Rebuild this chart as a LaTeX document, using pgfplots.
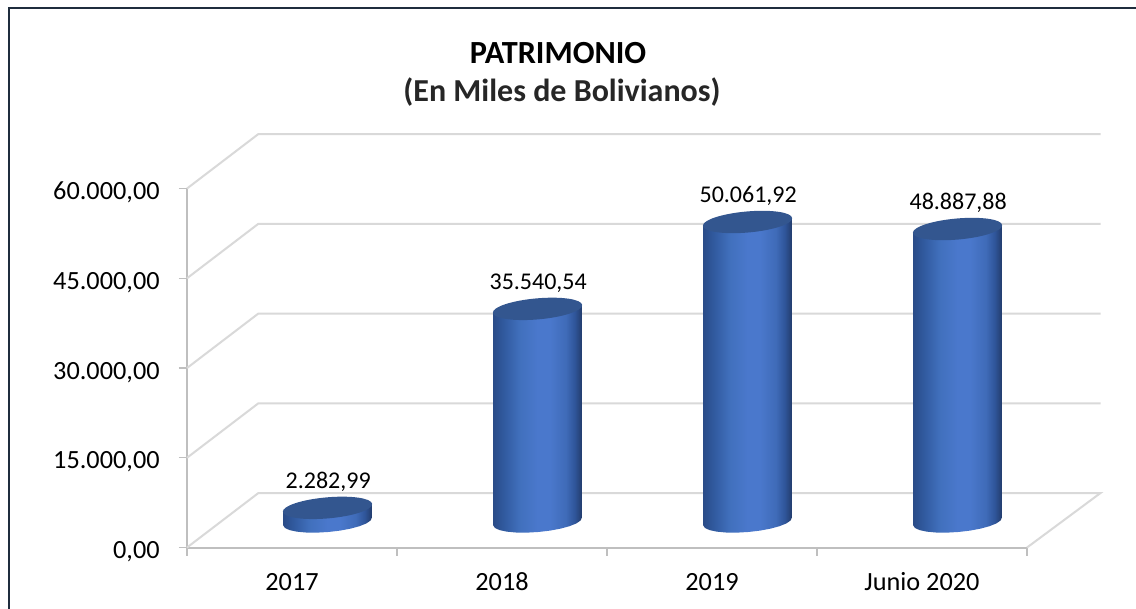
\documentclass[border=0pt]{standalone}
\usepackage{pgfplots}
\pgfplotsset{compat=1.18}
\usepackage{pgfplotstable}
\usepackage{fontspec}
\setmainfont{Carlito}
\definecolor{gridc}{HTML}{D9D9D9}
\definecolor{axisc}{HTML}{BFBFBF}
\definecolor{framec}{HTML}{1F2D3D}
\definecolor{topc}{HTML}{33568F}
\definecolor{cyA}{HTML}{2A4C88}
\definecolor{cyB}{HTML}{315A9F}
\definecolor{cyB2}{HTML}{4170BD}
\definecolor{cyC}{HTML}{4A78CC}
\definecolor{cyD}{HTML}{3F6BB8}
\definecolor{cyD2}{HTML}{2F5599}
\definecolor{cyE}{HTML}{233C6C}
\pgfdeclarehorizontalshading{cyl}{100bp}{color(0bp)=(cyA); color(25bp)=(cyA); color(31bp)=(cyB); color(40bp)=(cyB2); color(50bp)=(cyC); color(57bp)=(cyC); color(66bp)=(cyD); color(71bp)=(cyD2); color(75bp)=(cyE); color(100bp)=(cyE)}
\pgfdeclareplotmark{cyltop}{\pgfpathellipse{\pgfpointorigin}{\pgfpointpolar{5}{33.6pt}}{\pgfpointpolar{95}{7.9pt}}\pgfusepathqfill}
\pgfplotstableread{
x v
0.5 2282.99
1.5 35540.54
2.5 50061.92
3.5 48887.88
}\patrimonio
% outline of a cylinder round x=0: dy + k*value
\pgfplotstableread{
dx dy k
-.2111 -648 1
.2111 648 1
.2111 648 0
.2050 174 0
.1850 -312 0
.1523 -779 0
.1093 -1190 0
.0589 -1521 0
.0044 -1748 0
-.0505 -1856 0
-.1018 -1838 0
-.1462 -1694 0
-.1806 -1435 0
-.2028 -1079 0
-.2111 -648 0
}\cyloutline
\newcommand\cyl[2]{\addplot[shade,shading=cyl,draw=none,forget plot] table[x expr=\thisrow{dx}+#1,y expr=\thisrow{dy}+\thisrow{k}*#2] {\cyloutline} --cycle;}
\begin{document}
\begin{tikzpicture}[x=1pt,y=1pt]
\useasboundingbox (0,0) rectangle (852,456.75);
\fill[white] (0,0) rectangle (852,456.75);
\draw[framec,line width=1.6pt] (6.8,0) -- (6.8,450.9) -- (852,450.9);
\node[font=\bfseries\fontsize{24.2}{28}\selectfont,text=black] at (418.5,417) {PATRIMONIO};
\node[font=\bfseries\fontsize{24}{28}\selectfont,text=black!85] at (421.5,388) {(En Miles de Bolivianos)};
\begin{axis}[
  at={(140.25pt,46.1pt)},anchor=south west,scale only axis,
  width=630pt,height=269.25pt,
  xmin=0,xmax=4,ymin=0,ymax=60000,clip=false,
  axis x line*=bottom,axis y line*=left,axis line style={-,draw=axisc,line width=1.5pt},
  tick align=outside,major tick length=6pt,
  tick style={draw=axisc,line width=1pt},
  xtick={0,1,2,3,4},xticklabels={2017,2018,2019,Junio 2020},x tick label as interval=true,
  ytick={0,15000,30000,45000,60000},
  scaled y ticks=false,
  tick label style={font=\fontsize{19.7}{22}\selectfont,text=black},
  xticklabel style={yshift=-8.8pt,text height=14pt,text depth=4pt},
  yticklabel style={xshift=-11pt,yshift=-3.2pt,/pgf/number format/.cd,fixed,fixed zerofill,precision=2,use comma,1000 sep={.},assume math mode=true},
]
\addplot[gridc,line width=1.5pt,forget plot] coordinates {(0,0) (0.34,9109) (4.35,9109) (4,0)};
\addplot[gridc,line width=1.5pt,forget plot] coordinates {(0,15000) (0.34,24109) (4.35,24109)};
\addplot[gridc,line width=1.5pt,forget plot] coordinates {(0,30000) (0.34,39109) (4.35,39109)};
\addplot[gridc,line width=1.5pt,forget plot] coordinates {(0,45000) (0.34,54109) (4.35,54109)};
\addplot[gridc,line width=1.5pt,forget plot] coordinates {(0,60000) (0.34,69109) (4.35,69109)};
\end{axis}
\begin{axis}[
  at={(166.9pt,65.6pt)},anchor=south west,scale only axis,
  width=630pt,height=269.25pt,
  xmin=0,xmax=4,ymin=0,ymax=60000,clip=false,hide axis,
  /pgf/number format/.cd,fixed,fixed zerofill,precision=2,use comma,1000 sep={.},assume math mode=true,
]
\cyl{0.5}{2282.99}
\cyl{1.5}{35540.54}
\cyl{2.5}{50061.92}
\cyl{3.5}{48887.88}
\addplot[only marks,mark=cyltop,mark options={fill=topc,draw=none},
  point meta=y,nodes near coords,
  every node near coord/.style={anchor=center,xshift=.5pt,yshift=19.5pt,font=\fontsize{18}{20}\selectfont,text=black}]
  table[x=x,y=v] {\patrimonio};
\end{axis}
\end{tikzpicture}
\end{document}
